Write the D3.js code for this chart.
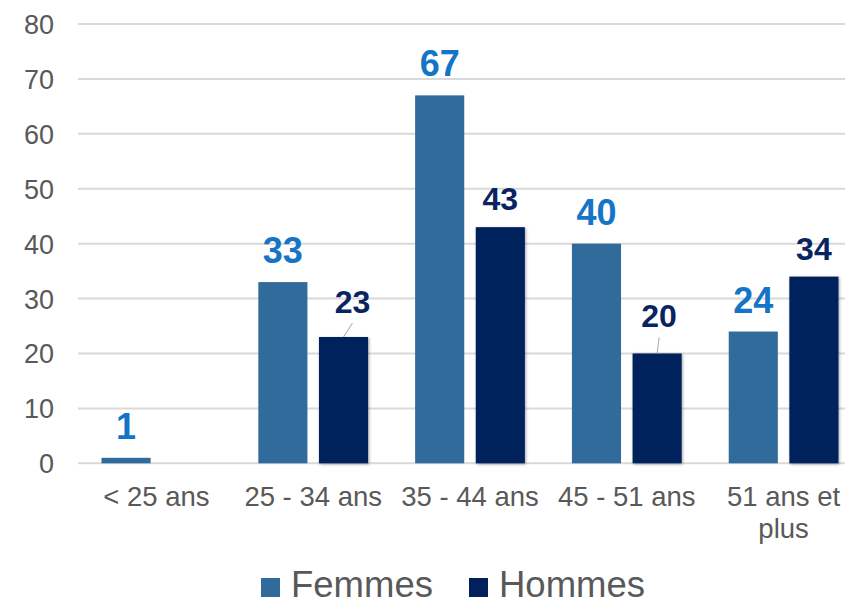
<!DOCTYPE html>
<html>
<head>
<meta charset="utf-8">
<script src="https://cdn.jsdelivr.net/npm/d3@7"></script>
<style>
  body { margin: 0; background: #fff; }
  text { font-family: "Liberation Sans", Arial, sans-serif; }
</style>
</head>
<body>
<svg id="chart" width="845" height="600"></svg>
<script>
// ***** Data *****
const categories = ["< 25 ans", "25 - 34 ans", "35 - 44 ans", "45 - 51 ans", "51 ans et plus"];
const series = ["Femmes", "Hommes"];
const femmes = [1, 33, 67, 40, 24];
const hommes = [null, 23, 43, 20, 34];
const yTicks = [0, 10, 20, 30, 40, 50, 60, 70, 80];

const colors = { Femmes: "#306b9c", Hommes: "#03205c" };
const labelColors = { Femmes: "#1674c6", Hommes: "#0a2462" };

const svg = d3.select("#chart");

// plot area runs a bit past the right edge, like the source picture
const x0 = d3.scaleBand()
  .domain(categories)
  .range([78, 862])
  .paddingInner(0.3)
  .paddingOuter(0.15);

const x1 = d3.scaleBand()
  .domain(series)
  .range([0, x0.bandwidth()])
  .paddingInner(0.19);

const y = d3.scaleLinear().domain([0, 80]).range([463.3, 24]);

// ***** Gridlines *****
svg.append("g")
  .selectAll("line")
  .data(yTicks)
  .enter()
  .append("line")
  .attr("x1", 78)
  .attr("x2", 845)
  .attr("y1", d => y(d))
  .attr("y2", d => y(d))
  .attr("stroke", "#d9d9d9")
  .attr("stroke-width", 2);

// ***** Y axis labels *****
const yAxis = d3.axisLeft(y).tickValues(yTicks).tickSize(0).tickPadding(0);
svg.append("g")
  .attr("transform", "translate(54,0)")
  .call(yAxis)
  .call(g => g.select(".domain").remove())
  .call(g => g.selectAll("text")
    .attr("fill", "#595959")
    .style("font-size", "27px")
    .attr("dy", "0.35em"));

// shadow for the Hommes bars
const defs = svg.append("defs");
const shadow = defs.append("filter").attr("id", "shadow")
  .attr("x", "-20%").attr("y", "-10%").attr("width", "140%").attr("height", "130%");
shadow.append("feDropShadow")
  .attr("dx", 1).attr("dy", 1).attr("stdDeviation", 1.5)
  .attr("flood-color", "#000").attr("flood-opacity", 0.35);

// ***** Bars *****
const rows = categories.map((c, i) => ({
  cat: c,
  values: [
    { key: "Femmes", value: femmes[i] },
    { key: "Hommes", value: hommes[i] }
  ].filter(d => d.value != null)
}));

const groups = svg.selectAll(".catGroup")
  .data(rows)
  .enter()
  .append("g")
  .attr("class", "catGroup")
  .attr("transform", d => "translate(" + x0(d.cat) + ",0)");

groups.selectAll("rect")
  .data(d => d.values)
  .enter()
  .append("rect")
  .attr("x", d => x1(d.key))
  .attr("width", x1.bandwidth())
  .attr("y", d => y(d.value))
  .attr("height", d => y(0) - y(d.value))
  .attr("fill", d => colors[d.key])
  .attr("filter", d => d.key === "Hommes" ? "url(#shadow)" : null);

// ***** Value labels *****
// small labels (23, 20) were pushed up by the source with a leader line
const moved = { 23: { dx: 9, dy: 24 }, 20: { dx: 2, dy: 26 } };

groups.each(function(row) {
  const g = d3.select(this);
  row.values.forEach(d => {
    const cx = x1(d.key) + x1.bandwidth() / 2;
    const top = y(d.value);
    const isF = d.key === "Femmes";
    const m = !isF && moved[d.value];
    const lx = cx + (m ? m.dx : 0);
    const ly = top - (m ? m.dy : (isF ? 19 : 17));
    if (m) {
      g.append("line")
        .attr("x1", cx).attr("y1", top)
        .attr("x2", lx).attr("y2", ly + 10)
        .attr("stroke", "#a6a6a6").attr("stroke-width", 1);
    }
    g.append("text")
      .attr("x", lx)
      .attr("y", ly)
      .attr("text-anchor", "middle")
      .attr("fill", labelColors[d.key])
      .style("font-size", isF ? "36px" : "32px")
      .style("font-weight", "bold")
      .text(d.value);
  });
});

// ***** Category labels *****
const catLines = { "51 ans et plus": ["51 ans et", "plus"] };
svg.append("g")
  .selectAll("text")
  .data(categories)
  .enter()
  .append("text")
  .attr("x", d => x0(d) + x0.bandwidth() / 2)
  .attr("y", 506)
  .attr("text-anchor", "middle")
  .attr("fill", "#595959")
  .style("font-size", "27.5px")
  .each(function(d) {
    const lines = catLines[d] || [d];
    const t = d3.select(this);
    lines.forEach((l, i) => {
      t.append("tspan")
        .attr("x", x0(d) + x0.bandwidth() / 2)
        .attr("dy", i === 0 ? 0 : 32)
        .text(l);
    });
  });

// ***** Legend *****
const legendX = [261, 469];
const legend = svg.append("g");
series.forEach((s, i) => {
  legend.append("rect")
    .attr("x", legendX[i]).attr("y", 578)
    .attr("width", 19).attr("height", 19)
    .attr("fill", colors[s]);
  legend.append("text")
    .attr("x", legendX[i] + 30)
    .attr("y", 597)
    .attr("fill", "#595959")
    .style("font-size", "36.5px")
    .text(s);
});
</script>
</body>
</html>
